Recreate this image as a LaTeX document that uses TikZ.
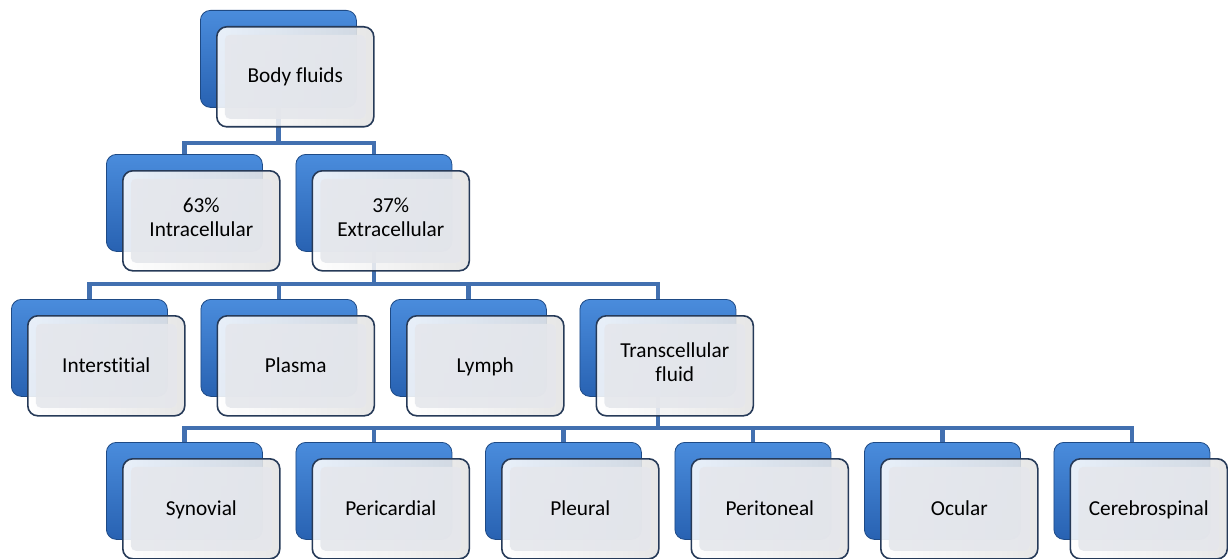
\documentclass[tikz,border=0pt]{standalone}
\usepackage{fontspec}
\setmainfont[Ligatures=NoCommon]{Carlito}
\usetikzlibrary{calc}
\pgfdeclarelayer{bg}
\pgfsetlayers{bg,main}
\definecolor{connc}{RGB}{66,112,176}
\definecolor{bluedk}{RGB}{40,98,178}
\definecolor{bluelt}{RGB}{74,140,220}
\definecolor{bordr}{RGB}{38,58,88}
\definecolor{innerc}{RGB}{229,231,236}
\tikzset{
  backbox/.style={draw=bluedk!75!black, line width=0.8pt, rounded corners=10pt,
    minimum width=156pt, minimum height=97pt, inner sep=0pt,
    top color=bluelt, bottom color=bluedk},
  frontbox/.style={draw=bordr, line width=1.6pt, rounded corners=10pt,
    minimum width=157pt, minimum height=100pt, inner sep=0pt,
    left color=white, right color=gray!22, fill opacity=0.88, text opacity=1,
    align=center, font=\fontsize{21.3}{23.5}\selectfont,
    execute at begin node={\rule{0pt}{\dimexpr\ht\strutbox+3pt\relax}},
    execute at end node=\strut,
    path picture={\fill[innerc, rounded corners=5pt]
      ($(path picture bounding box.south west)+(8pt,8pt)$) rectangle
      ($(path picture bounding box.north east)-(8pt,8pt)$);}},
  connector/.style={connc, line width=4.8pt},
}
\newcommand\orgbox[4]{%
  \node[backbox, anchor=north west] (#1) at (#2,#3) {};
  \node[frontbox, anchor=north west] (#1-f) at ($(#2,#3)+(16,16)$) {#4};
}
\begin{document}
\begin{tikzpicture}[x=1pt,y=-1pt]
\useasboundingbox (0,0) rectangle (1228,559);
% level 1
\orgbox{bf}{200}{10}{Body fluids}
% level 2
\orgbox{ic}{106}{154}{63\%\\Intracellular}
\orgbox{ec}{295.5}{154}{37\%\\Extracellular}
% level 3
\orgbox{it}{11}{299}{Interstitial}
\orgbox{pl}{200.5}{299}{Plasma}
\orgbox{ly}{390}{299}{Lymph}
\orgbox{tc}{579.5}{299}{Transcellular\\fluid}
% level 4
\orgbox{sy}{106}{442}{Synovial}
\orgbox{pc}{295.5}{442}{Pericardial}
\orgbox{pu}{485}{442}{Pleural}
\orgbox{pt}{674.5}{442}{Peritoneal}
\orgbox{oc}{864}{442}{Ocular}
\orgbox{cs}{1053.5}{442}{Cerebrospinal}
\begin{pgfonlayer}{bg}
\foreach \c in {ic,ec}
  \draw[connector] (bf.south) |- ([yshift=11pt]\c.north) -- (\c.north);
\foreach \c in {it,pl,ly,tc}
  \draw[connector] (ec.south) |- ([yshift=15pt]\c.north) -- (\c.north);
\foreach \c in {sy,pc,pu,pt,oc,cs}
  \draw[connector] (tc.south) |- ([yshift=14pt]\c.north) -- (\c.north);
\end{pgfonlayer}
\end{tikzpicture}
\end{document}
